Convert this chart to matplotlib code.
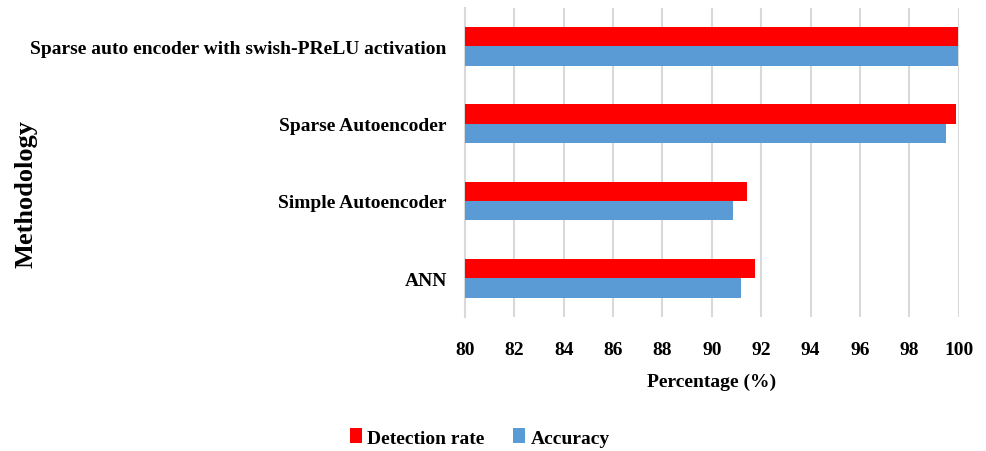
import matplotlib
matplotlib.use("Agg")
import matplotlib.pyplot as plt
import numpy as np

# data, bottom to top
methods = ["ANN", "Simple Autoencoder", "Sparse Autoencoder",
           "Sparse auto encoder with swish-PReLU activation"]
detection_rate = [91.75, 91.43, 99.87, 99.98]
accuracy = [91.16, 90.86, 99.49, 99.97]
xticks = list(range(80, 101, 2))

plt.rcParams["font.family"] = ["Liberation Serif", "DejaVu Serif"]
plt.rcParams["font.weight"] = "bold"

fig = plt.figure(figsize=(9.87, 4.52), dpi=100)
ax = fig.add_axes([0.471, 0.2965, 0.5005, 0.6845])

y = np.arange(len(methods))
h = 0.25
ax.barh(y + h / 2, detection_rate, height=h, color="#ff0000", label="Detection rate", zorder=3)
ax.barh(y - h / 2, accuracy, height=h, color="#5b9bd5", label="Accuracy", zorder=3)

ax.set_xlim(80, 100)
ax.set_ylim(-0.5, len(methods) - 0.5)
ax.set_xticks(xticks)
ax.set_yticks(y)
ax.set_yticklabels(methods, fontsize=14, fontweight="bold")
ax.tick_params(axis="x", labelsize=14, length=0, pad=17)
ax.tick_params(axis="y", length=0, pad=13)
for lab in ax.get_xticklabels():
    lab.set_fontweight("bold")

ax.grid(axis="x", color="#d9d9d9", linewidth=1.5, zorder=0)
for s in ["top", "right", "bottom"]:
    ax.spines[s].set_visible(False)
ax.spines["left"].set_color("#d9d9d9")
ax.spines["left"].set_linewidth(1.5)

ax.set_xlabel("Percentage (%)", fontsize=14, fontweight="bold", labelpad=11)
fig.text(0.026, 0.57, "Methodology", rotation=90, fontsize=19, fontweight="bold",
         ha="center", va="center")

fig.legend(loc="center", bbox_to_anchor=(0.486, 0.03), ncol=2, frameon=False,
           fontsize=14, handlelength=0.6, handleheight=0.8, handletextpad=0.3,
           columnspacing=1.45)

fig.savefig("out.png", dpi=100)
